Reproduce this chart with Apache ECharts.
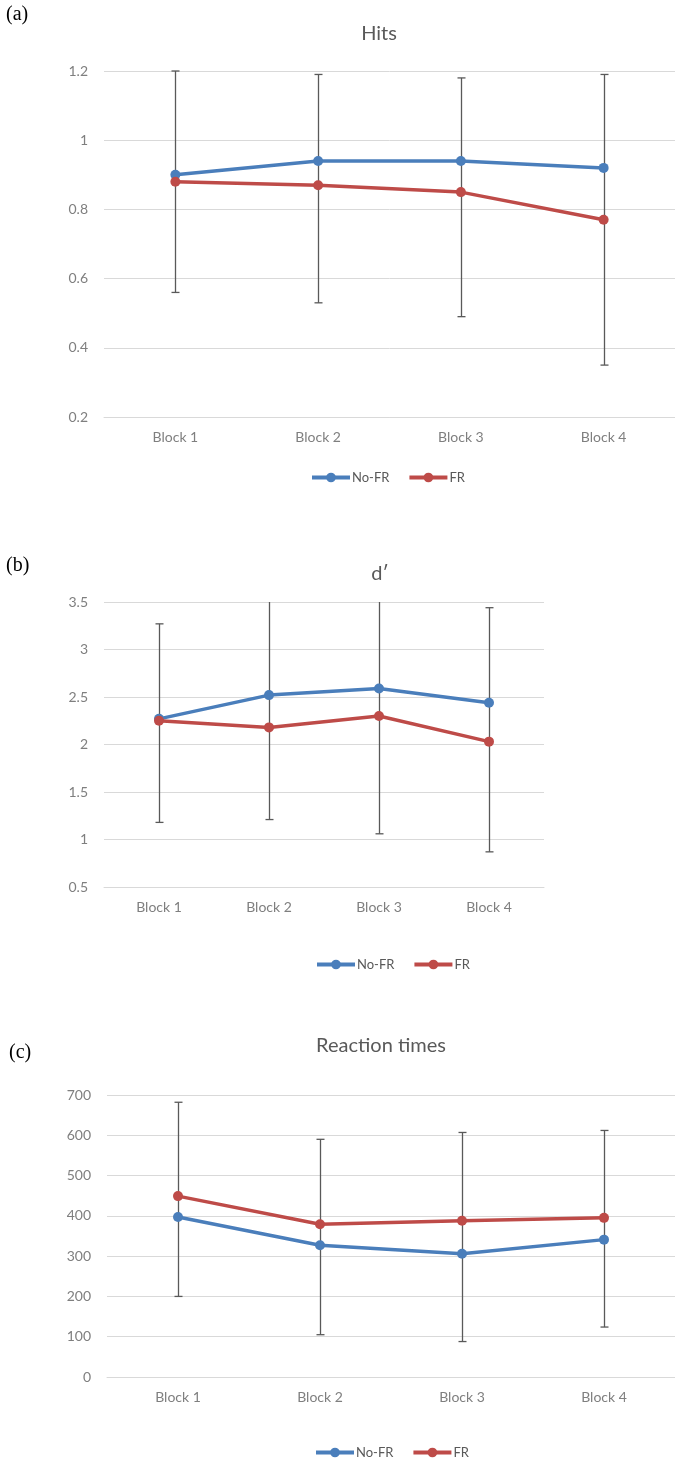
<!DOCTYPE html>
<html>
<head>
<meta charset="utf-8">
<script src="https://cdn.jsdelivr.net/npm/echarts@6/dist/echarts.min.js"></script>
<style>
html,body{margin:0;padding:0;background:#fff;}
#main{width:675px;height:1458px;}
</style>
</head>
<body>
<div id="main"></div>
<script>
// ---- data ----
const categories = ['Block 1', 'Block 2', 'Block 3', 'Block 4'];
const seriesNames = ['No-FR', 'FR'];

// (a) Hits
const hitsNoFR = [0.90, 0.94, 0.94, 0.92];
const hitsFR = [0.88, 0.87, 0.85, 0.77];
const hitsErrLow = [0.56, 0.53, 0.49, 0.35];
const hitsErrHigh = [1.20, 1.19, 1.18, 1.19];

// (b) d'
const dNoFR = [2.27, 2.52, 2.59, 2.44];
const dFR = [2.25, 2.18, 2.30, 2.03];
const dErrLow = [1.18, 1.21, 1.06, 0.87];
const dErrHigh = [3.27, 3.62, 3.70, 3.44];

// (c) Reaction times
const rtNoFR = [397, 327, 306, 341];
const rtFR = [449, 379, 388, 395];
const rtErrLow = [200, 105, 88, 124];
const rtErrHigh = [682, 590, 607, 612];

const titles = ['Hits', 'd\u2032', 'Reaction times'];
const panelLabels = ['(a)', '(b)', '(c)'];

// ---- styles ----
const BLUE = '#4a7ebb';
const RED = '#be4b48';
const ERR = '#595959';
const GRID = '#d9d9d9';
const LABEL = '#7f7f7f';
const FONT = 'Lato, "Open Sans", sans-serif';

function errData(lo, hi) {
  return categories.map((c, i) => [i, lo[i], hi[i]]);
}

function renderErr(params, api) {
  const i = api.value(0);
  const lo = api.coord([i, api.value(1)]);
  const hi = api.coord([i, api.value(2)]);
  const cs = params.coordSys;
  const top = Math.max(hi[1], cs.y);
  const bot = Math.min(lo[1], cs.y + cs.height);
  const x = Math.round(lo[0]) + 0.5;
  const style = { stroke: ERR, lineWidth: 1.3 };
  const children = [{ type: 'line', shape: { x1: x, y1: top, x2: x, y2: bot }, style }];
  const cap = 4;
  if (hi[1] >= cs.y) children.push({ type: 'line', shape: { x1: x - cap, y1: hi[1], x2: x + cap, y2: hi[1] }, style });
  if (lo[1] <= cs.y + cs.height) children.push({ type: 'line', shape: { x1: x - cap, y1: lo[1], x2: x + cap, y2: lo[1] }, style });
  return { type: 'group', children };
}

const grids = [
  { left: 104, top: 71, width: 577, height: 346 },
  { left: 104, top: 602, width: 440, height: 285 },
  { left: 107, top: 1095, width: 576, height: 282 }
];
const yRanges = [
  { min: 0.2, max: 1.2, interval: 0.2 },
  { min: 0.5, max: 3.5, interval: 0.5 },
  { min: 0, max: 700, interval: 100 }
];
const panels = [
  { noFR: hitsNoFR, fr: hitsFR, lo: hitsErrLow, hi: hitsErrHigh },
  { noFR: dNoFR, fr: dFR, lo: dErrLow, hi: dErrHigh },
  { noFR: rtNoFR, fr: rtFR, lo: rtErrLow, hi: rtErrHigh }
];
const titlePos = [[379, 34], [380, 574], [381, 1046]];
const panelLabelPos = [[6, 15], [6, 566], [9, 1053]];
const legendPos = [[305, 466], [310, 953], [309, 1441]];

const xAxes = grids.map((g, k) => ({
  type: 'category', gridIndex: k, data: categories, boundaryGap: true,
  axisLine: { show: true, lineStyle: { color: GRID, width: 1 } },
  axisTick: { show: false },
  axisLabel: { color: LABEL, fontSize: 14, fontFamily: FONT, margin: 13 },
  splitLine: { show: false }
}));
const yAxes = grids.map((g, k) => Object.assign({
  type: 'value', gridIndex: k,
  axisLine: { show: false }, axisTick: { show: false },
  axisLabel: { color: LABEL, fontSize: 14, fontFamily: FONT, margin: 16 },
  splitLine: { show: true, lineStyle: { color: GRID, width: 1 } }
}, yRanges[k]));

const series = [];
panels.forEach((p, k) => {
  series.push({
    type: 'custom', name: 'err' + k, xAxisIndex: k, yAxisIndex: k,
    renderItem: renderErr, data: errData(p.lo, p.hi), z: 1, silent: true,
    encode: { x: 0, y: [1, 2] }
  });
  series.push({
    type: 'line', name: seriesNames[0], xAxisIndex: k, yAxisIndex: k, data: p.noFR,
    symbol: 'circle', symbolSize: 10, z: 3,
    lineStyle: { color: BLUE, width: 3.5 }, itemStyle: { color: BLUE }
  });
  series.push({
    type: 'line', name: seriesNames[1], xAxisIndex: k, yAxisIndex: k, data: p.fr,
    symbol: 'circle', symbolSize: 10, z: 4,
    lineStyle: { color: RED, width: 3.5 }, itemStyle: { color: RED }
  });
});

const legends = legendPos.map(pos => ({
  data: seriesNames, left: pos[0], top: pos[1], orient: 'horizontal',
  itemWidth: 38, itemHeight: 12, itemGap: 18,
  lineStyle: { width: 4 },
  textStyle: { color: '#595959', fontSize: 13, fontFamily: FONT, padding: [0, 0, 0, -3] }
}));

const graphics = [];
titles.forEach((t, k) => {
  graphics.push({
    type: 'text', x: titlePos[k][0], y: titlePos[k][1],
    style: { text: t, fill: '#595959', font: '20px ' + FONT, textAlign: 'center', textVerticalAlign: 'middle' }
  });
  graphics.push({
    type: 'text', x: panelLabelPos[k][0], y: panelLabelPos[k][1],
    style: { text: panelLabels[k], fill: '#000', font: '20px "Liberation Serif", "DejaVu Serif", serif', textAlign: 'left', textVerticalAlign: 'middle' }
  });
});

const chart = echarts.init(document.getElementById('main'), null, { renderer: 'canvas' });
chart.setOption({
  animation: false,
  backgroundColor: '#fff',
  grid: grids,
  xAxis: xAxes,
  yAxis: yAxes,
  legend: legends,
  series: series,
  graphic: graphics
});
</script>
</body>
</html>
